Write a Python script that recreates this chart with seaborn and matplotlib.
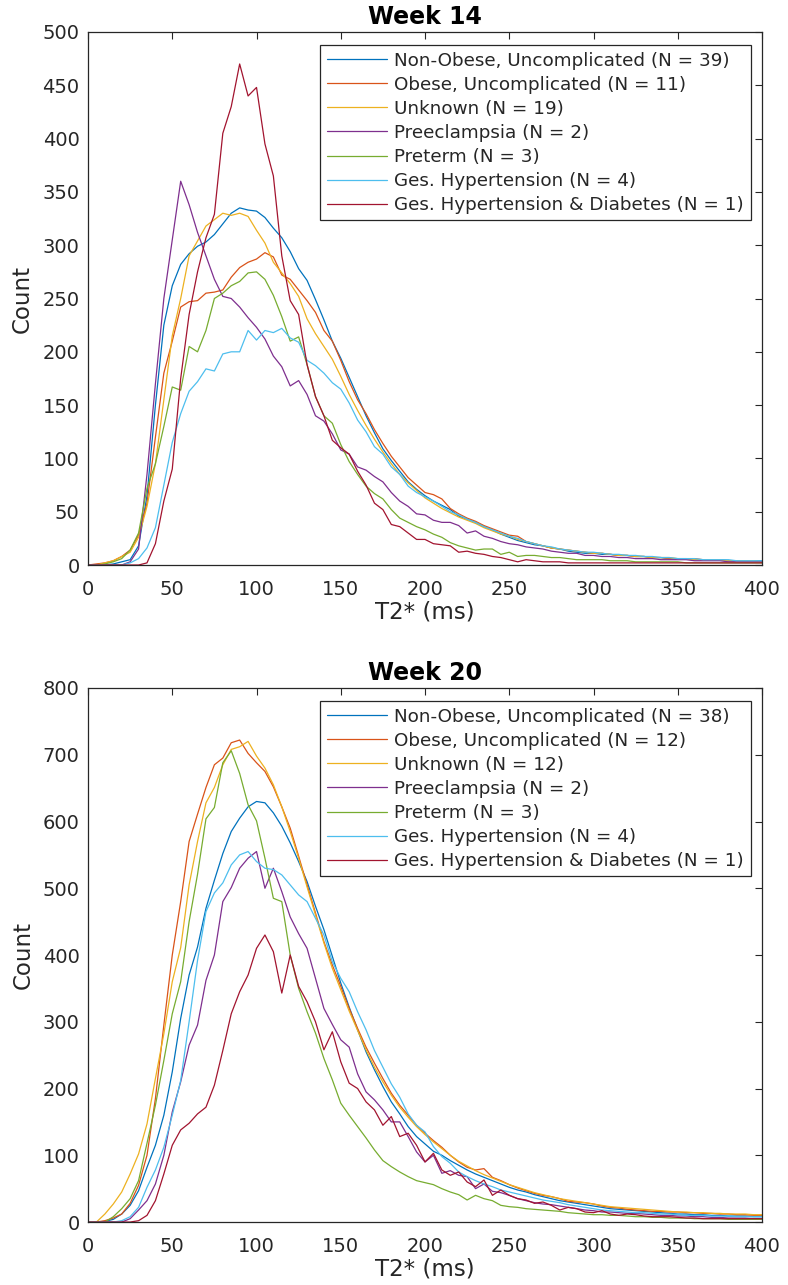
import numpy as np
import pandas as pd
import matplotlib
matplotlib.use("Agg")
import matplotlib.pyplot as plt
import seaborn as sns

# ---------------- data ----------------
T2_MS = list(range(0, 401, 5))

GROUPS = ["Non-Obese, Uncomplicated", "Obese, Uncomplicated", "Unknown",
          "Preeclampsia", "Preterm", "Ges. Hypertension",
          "Ges. Hypertension & Diabetes"]
N_WEEK14 = [39, 11, 19, 2, 3, 4, 1]
N_WEEK20 = [38, 12, 12, 2, 3, 4, 1]

COLORS = ["#0072BD", "#D95319", "#EDB120", "#7E2F8E", "#77AC30", "#4DBEEE", "#A2142F"]

# Week 14 counts (T2* = 0, 5, ..., 400 ms)
W14_NONOBESE = [0, 0, 0, 1, 3, 5, 18, 65, 150, 225,
                262, 282, 292, 299, 303, 310, 320, 330, 335, 333,
                332, 326, 316, 307, 294, 278, 267, 249, 230, 210,
                194, 176, 158, 140, 124, 109, 98, 88, 78, 71,
                65, 60, 56, 52, 46, 43, 40, 36, 33, 29,
                26, 23, 21, 19, 18, 16, 15, 13, 12, 11,
                11, 10, 10, 9, 9, 8, 8, 7, 7, 6,
                6, 6, 5, 5, 5, 5, 4, 4, 4, 4,
                4]
W14_OBESE = [0, 1, 2, 4, 8, 14, 28, 58, 120, 180,
             210, 242, 247, 248, 255, 256, 258, 270, 279, 284,
             287, 293, 289, 272, 268, 258, 248, 237, 220, 210,
             192, 172, 155, 142, 127, 114, 102, 92, 82, 75,
             68, 66, 62, 53, 48, 44, 41, 37, 34, 31,
             28, 27, 22, 20, 18, 16, 15, 14, 13, 12,
             11, 11, 10, 9, 9, 8, 8, 7, 7, 6,
             6, 6, 6, 5, 5, 5, 4, 4, 4, 4,
             3]
W14_UNKNOWN = [0, 0, 2, 4, 8, 12, 26, 55, 95, 155,
               215, 250, 290, 304, 318, 324, 330, 328, 330, 327,
               314, 302, 284, 274, 264, 252, 231, 217, 205, 193,
               177, 160, 145, 131, 118, 106, 95, 85, 77, 70,
               63, 58, 53, 49, 45, 42, 39, 35, 32, 29,
               27, 24, 22, 20, 18, 16, 15, 14, 13, 12,
               11, 11, 10, 9, 9, 8, 8, 7, 7, 7,
               6, 6, 5, 5, 5, 5, 4, 4, 4, 4,
               3]
W14_PREECLAMPSIA = [0, 0, 0, 0, 0, 3, 15, 85, 170, 250,
                    305, 360, 338, 312, 290, 268, 252, 250, 242, 232,
                    223, 212, 196, 186, 168, 173, 160, 140, 135, 123,
                    108, 104, 92, 89, 83, 78, 68, 60, 55, 48,
                    47, 42, 40, 40, 37, 30, 32, 27, 25, 22,
                    20, 19, 17, 16, 15, 13, 12, 11, 11, 9,
                    9, 8, 8, 7, 7, 6, 6, 6, 5, 5,
                    5, 5, 4, 4, 4, 4, 3, 3, 3, 3,
                    3]
W14_PRETERM = [0, 0, 1, 3, 6, 14, 30, 72, 95, 130,
               167, 164, 205, 200, 220, 250, 255, 262, 266, 274,
               275, 268, 253, 233, 210, 214, 188, 158, 140, 133,
               113, 97, 85, 74, 67, 62, 52, 44, 40, 36,
               33, 29, 26, 21, 18, 16, 14, 15, 15, 10,
               12, 8, 9, 9, 8, 7, 7, 6, 5, 5,
               5, 5, 4, 4, 4, 3, 3, 3, 3, 3,
               3, 2, 2, 2, 2, 2, 2, 2, 2, 2,
               2]
W14_GESHT = [0, 0, 0, 0, 0, 2, 6, 16, 35, 75,
             115, 142, 163, 172, 184, 182, 198, 200, 200, 220,
             211, 220, 218, 222, 213, 209, 192, 187, 180, 171,
             165, 152, 136, 125, 111, 104, 92, 85, 74, 68,
             64, 60, 55, 50, 47, 43, 40, 36, 33, 30,
             27, 25, 22, 20, 18, 17, 15, 14, 13, 12,
             12, 11, 10, 10, 9, 9, 8, 8, 7, 7,
             6, 6, 6, 5, 5, 5, 5, 4, 4, 4,
             4]
W14_GESHTDIAB = [0, 0, 0, 0, 0, 0, 0, 2, 20, 60,
                 90, 175, 235, 275, 307, 329, 405, 430, 470, 440,
                 448, 395, 365, 290, 248, 235, 188, 158, 140, 117,
                 110, 104, 88, 75, 58, 52, 38, 36, 30, 24,
                 24, 20, 19, 18, 12, 13, 11, 10, 8, 7,
                 5, 3, 5, 4, 3, 3, 3, 2, 2, 2,
                 2, 2, 2, 2, 2, 2, 2, 2, 2, 2,
                 2, 2, 2, 2, 2, 2, 2, 2, 2, 2,
                 2]

# Week 20 counts
W20_NONOBESE = [0, 0, 1, 4, 12, 25, 47, 82, 115, 160,
                225, 305, 370, 412, 470, 512, 552, 585, 605, 622,
                630, 628, 613, 593, 568, 540, 510, 473, 438, 398,
                358, 322, 288, 255, 228, 203, 180, 162, 143, 128,
                117, 106, 100, 92, 85, 78, 72, 67, 62, 57,
                52, 48, 45, 41, 38, 35, 32, 30, 28, 26,
                24, 22, 20, 19, 18, 17, 16, 15, 14, 13,
                12, 12, 11, 11, 10, 10, 9, 9, 9, 8,
                8]
W20_OBESE = [0, 0, 2, 6, 12, 28, 55, 100, 185, 295,
             400, 480, 570, 611, 651, 685, 695, 718, 722, 702,
             688, 675, 652, 622, 590, 548, 505, 463, 420, 385,
             353, 320, 290, 262, 238, 215, 193, 175, 160, 145,
             133, 122, 112, 100, 90, 82, 78, 80, 67, 62,
             56, 51, 47, 43, 40, 38, 35, 31, 30, 29,
             27, 24, 22, 21, 19, 18, 17, 16, 16, 15,
             15, 14, 14, 13, 13, 12, 12, 11, 11, 10,
             10]
W20_UNKNOWN = [0, 0, 12, 27, 45, 72, 102, 147, 215, 282,
               360, 411, 505, 570, 628, 651, 685, 708, 712, 720,
               698, 680, 655, 622, 585, 545, 502, 460, 418, 380,
               348, 316, 287, 258, 232, 210, 190, 172, 157, 143,
               131, 120, 110, 100, 91, 84, 77, 71, 66, 61,
               56, 52, 48, 44, 41, 38, 35, 33, 31, 29,
               27, 25, 23, 22, 21, 20, 19, 18, 17, 16,
               15, 15, 14, 14, 13, 13, 12, 12, 12, 11,
               11]
W20_PREECLAMPSIA = [0, 0, 0, 0, 0, 5, 18, 32, 57, 100,
                    165, 210, 265, 295, 362, 400, 480, 501, 530, 545,
                    555, 500, 530, 495, 457, 432, 410, 365, 320, 296,
                    273, 262, 222, 195, 183, 168, 150, 150, 128, 105,
                    90, 100, 73, 77, 70, 68, 50, 57, 46, 44,
                    40, 35, 32, 29, 27, 26, 24, 22, 20, 18,
                    17, 15, 15, 14, 13, 13, 12, 11, 10, 10,
                    9, 9, 8, 8, 7, 7, 6, 6, 6, 5,
                    5]
W20_PRETERM = [0, 0, 0, 8, 20, 35, 62, 118, 175, 242,
               312, 360, 450, 521, 604, 621, 688, 706, 672, 625,
               601, 545, 485, 480, 400, 350, 315, 283, 245, 213,
               178, 160, 143, 126, 108, 92, 83, 75, 68, 62,
               59, 56, 50, 45, 41, 33, 40, 35, 32, 25,
               23, 22, 20, 19, 18, 17, 16, 14, 13, 12,
               11, 11, 10, 10, 9, 8, 8, 7, 7, 6,
               6, 6, 5, 5, 5, 5, 4, 4, 4, 4,
               4]
W20_GESHT = [0, 0, 0, 0, 2, 8, 22, 52, 78, 112,
             160, 212, 300, 392, 465, 493, 508, 535, 550, 555,
             540, 530, 528, 520, 505, 490, 480, 455, 430, 390,
             365, 345, 315, 288, 257, 232, 207, 187, 162, 145,
             135, 113, 98, 88, 75, 68, 62, 57, 53, 48,
             45, 42, 39, 36, 33, 31, 29, 26, 24, 22,
             20, 18, 17, 16, 15, 14, 14, 13, 12, 12,
             11, 10, 10, 10, 9, 9, 9, 8, 8, 8,
             8]
W20_GESHTDIAB = [0, 0, 0, 0, 0, 0, 2, 10, 32, 72,
                 115, 138, 148, 162, 172, 205, 257, 312, 345, 370,
                 410, 430, 405, 343, 400, 353, 330, 300, 258, 285,
                 240, 208, 200, 180, 168, 145, 158, 128, 133, 115,
                 90, 103, 78, 70, 75, 60, 53, 63, 40, 48,
                 40, 35, 33, 28, 30, 25, 18, 22, 20, 15,
                 14, 17, 12, 10, 12, 11, 9, 8, 8, 8,
                 7, 6, 6, 5, 5, 5, 5, 5, 5, 5,
                 5]

WEEK14 = [W14_NONOBESE, W14_OBESE, W14_UNKNOWN, W14_PREECLAMPSIA,
          W14_PRETERM, W14_GESHT, W14_GESHTDIAB]
WEEK20 = [W20_NONOBESE, W20_OBESE, W20_UNKNOWN, W20_PREECLAMPSIA,
          W20_PRETERM, W20_GESHT, W20_GESHTDIAB]

# ---------------- style ----------------
sns.set_style("white")
plt.rcParams["font.family"] = ["DejaVu Sans"]
AX_COLOR = "#262626"

TICK_FS = 14
LABEL_FS = 16.5
TITLE_FS = 17
LEG_FS = 13.2


def long_frame(series_list, counts):
    rows = []
    for g, n, vals in zip(GROUPS, counts, series_list):
        lab = f"{g} (N = {n})"
        for x, v in zip(T2_MS, vals):
            rows.append((lab, x, v))
    return pd.DataFrame(rows, columns=["group", "t2", "count"])


def draw(ax, series_list, counts, title, ymax, ystep):
    df = long_frame(series_list, counts)
    order = [f"{g} (N = {n})" for g, n in zip(GROUPS, counts)]
    sns.lineplot(data=df, x="t2", y="count", hue="group", hue_order=order,
                 palette=COLORS, estimator=None, linewidth=0.9, ax=ax,
                 legend=False)
    ax.set_xlim(0, 400)
    ax.set_ylim(0, ymax)
    ax.set_xticks(range(0, 401, 50))
    ax.set_yticks(range(0, ymax + 1, ystep))
    ax.set_xlabel("T2* (ms)", fontsize=LABEL_FS, color=AX_COLOR, labelpad=1)
    ax.set_ylabel("Count", fontsize=LABEL_FS, color=AX_COLOR, labelpad=6)
    ax.set_title(title, fontsize=TITLE_FS, fontweight="bold", color="black", pad=6)
    ax.tick_params(axis="both", which="both", direction="in", length=5,
                   width=0.8, colors=AX_COLOR, labelsize=TICK_FS,
                   top=True, right=True)
    ax.tick_params(axis="x", pad=11)
    ax.tick_params(axis="y", pad=6)
    for sp in ax.spines.values():
        sp.set_color(AX_COLOR)
        sp.set_linewidth(0.9)
        sp.set_visible(True)
    handles = ax.lines[:len(order)]
    leg = ax.legend(handles, order, loc="upper right",
                    bbox_to_anchor=(0.983, 0.975), fontsize=LEG_FS,
                    frameon=True, fancybox=False, framealpha=1,
                    edgecolor=AX_COLOR, handlelength=3.3, handletextpad=0.4,
                    labelspacing=0.33, borderpad=0.35, borderaxespad=0.0)
    leg.get_frame().set_linewidth(0.9)
    for t in leg.get_texts():
        t.set_color(AX_COLOR)


fig = plt.figure(figsize=(7.88, 12.85), dpi=100)
ax1 = fig.add_axes([0.1117, 0.5603, 0.8553, 0.4148])
ax2 = fig.add_axes([0.1117, 0.0490, 0.8553, 0.4156])

draw(ax1, WEEK14, N_WEEK14, "Week 14", 500, 50)
draw(ax2, WEEK20, N_WEEK20, "Week 20", 800, 100)

fig.savefig("out.png", dpi=100, facecolor="white")
